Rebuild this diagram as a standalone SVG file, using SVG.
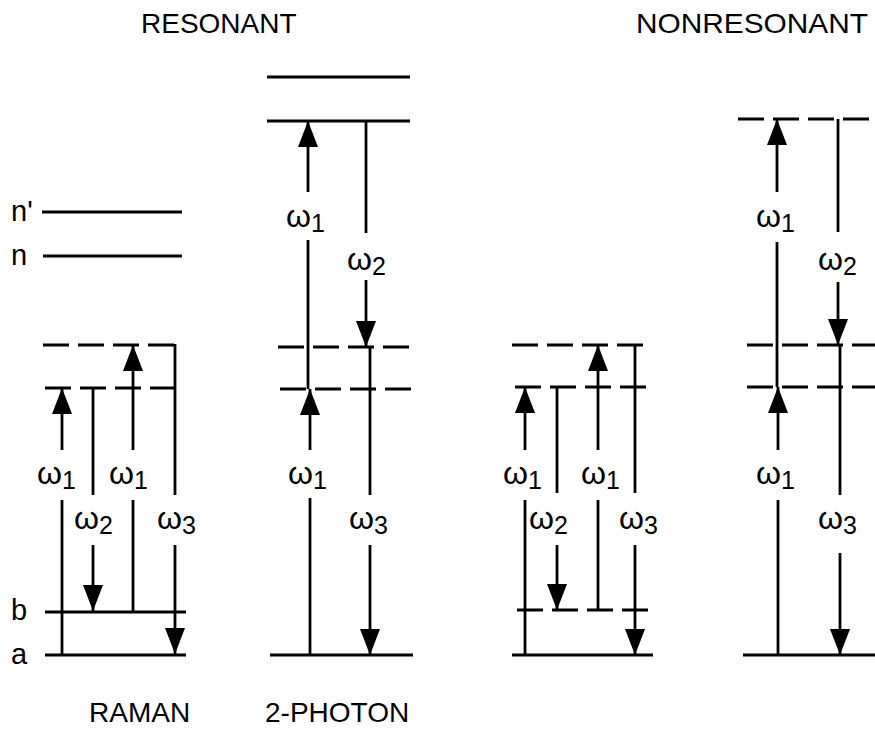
<svg xmlns="http://www.w3.org/2000/svg" width="875" height="748" viewBox="0 0 875 748">
<defs>
<marker id="ah" markerUnits="userSpaceOnUse" markerWidth="27" markerHeight="22" refX="26" refY="10" orient="auto">
<path d="M0,0 L26,10 L0,20 z" fill="#000"/>
</marker>
<style>
.lv{stroke:#000;stroke-width:3.2;fill:none}
.ds{stroke:#000;stroke-width:3.2;fill:none;stroke-dasharray:26 9}
.sh{stroke:#000;stroke-width:2.8;fill:none}
.ar{stroke:#000;stroke-width:2.8;fill:none;marker-end:url(#ah)}
text{font-family:"Liberation Sans",Arial,Helvetica,sans-serif;fill:#000}
.tt{font-size:28px}
.lb{font-size:29px}
.w{font-size:32px}
.sub{font-size:25px}
</style>
</defs>
<rect width="875" height="748" fill="#fff"/>

<g id="titles">
<text class="tt" x="141" y="33">RESONANT</text>
<text class="tt" x="636" y="33" textLength="232" lengthAdjust="spacingAndGlyphs">NONRESONANT</text>
<text class="tt" x="89" y="722">RAMAN</text>
<text class="tt" x="265" y="722">2-PHOTON</text>
</g>

<g id="level-labels">
<text class="lb" x="11" y="221">n'</text>
<text class="lb" x="11" y="265">n</text>
<text class="lb" x="11" y="620">b</text>
<text class="lb" x="11" y="664">a</text>
</g>

<g id="raman-levels">
<line id="r-nprime" class="lv" x1="42" y1="212" x2="182" y2="212"/>
<line id="r-n" class="lv" x1="43" y1="256" x2="182" y2="256"/>
<line id="r-v2" class="ds" x1="43" y1="345" x2="175" y2="345"/>
<line id="r-v1" class="ds" x1="45" y1="388" x2="175" y2="388"/>
<line id="r-b" class="lv" x1="45" y1="612" x2="186" y2="612"/>
<line id="r-a" class="lv" x1="45" y1="655" x2="186" y2="655"/>
</g>

<g id="tp-levels">
<line id="t-top" class="lv" x1="267" y1="77" x2="410" y2="77"/>
<line id="t-n" class="lv" x1="267" y1="121" x2="410" y2="121"/>
<line id="t-v2" class="ds" x1="278" y1="347" x2="413" y2="347"/>
<line id="t-v1" class="ds" x1="280" y1="389" x2="413" y2="389"/>
<line id="t-a" class="lv" x1="270" y1="655" x2="413" y2="655"/>
</g>

<g id="nr-raman-levels">
<line id="nr-v2" class="ds" x1="512" y1="345" x2="646" y2="345"/>
<line id="nr-v1" class="ds" x1="515" y1="387" x2="646" y2="387"/>
<line id="nr-b" class="ds" x1="517" y1="610" x2="649" y2="610"/>
<line id="nr-a" class="lv" x1="512" y1="655" x2="653" y2="655"/>
</g>

<g id="nt-levels">
<line id="nt-top" class="ds" x1="738" y1="119" x2="870" y2="119"/>
<line id="nt-v2" class="ds" x1="747" y1="345" x2="875" y2="345"/>
<line id="nt-v1" class="ds" x1="747" y1="387" x2="875" y2="387"/>
<line id="nt-a" class="lv" x1="743" y1="655" x2="875" y2="655"/>
</g>

<g id="connectors">
<!-- resonant Raman -->
<line class="sh" x1="62" y1="655" x2="62" y2="500"/>
<line class="ar" x1="62" y1="450" x2="62" y2="388"/>
<line class="sh" x1="93" y1="388" x2="93" y2="495"/>
<line class="ar" x1="93" y1="545" x2="93" y2="611"/>
<line class="sh" x1="133" y1="612" x2="133" y2="500"/>
<line class="ar" x1="133" y1="450" x2="133" y2="345"/>
<line class="sh" x1="175" y1="344" x2="175" y2="495"/>
<line class="ar" x1="175" y1="545" x2="175" y2="654"/>
<!-- resonant 2-photon -->
<line class="sh" x1="308" y1="389" x2="308" y2="240"/>
<line class="ar" x1="308" y1="192" x2="308" y2="121"/>
<line class="sh" x1="366" y1="121" x2="366" y2="233"/>
<line class="ar" x1="366" y1="280" x2="366" y2="347"/>
<line class="sh" x1="310" y1="655" x2="310" y2="498"/>
<line class="ar" x1="310" y1="450" x2="310" y2="389"/>
<line class="sh" x1="370" y1="347" x2="370" y2="495"/>
<line class="ar" x1="370" y1="545" x2="370" y2="655"/>
<!-- nonresonant Raman -->
<line class="sh" x1="525" y1="655" x2="525" y2="500"/>
<line class="ar" x1="525" y1="450" x2="525" y2="387"/>
<line class="sh" x1="557" y1="387" x2="557" y2="493"/>
<line class="ar" x1="557" y1="545" x2="557" y2="610"/>
<line class="sh" x1="598" y1="610" x2="598" y2="500"/>
<line class="ar" x1="598" y1="450" x2="598" y2="345"/>
<line class="sh" x1="635" y1="345" x2="635" y2="493"/>
<line class="ar" x1="635" y1="545" x2="635" y2="655"/>
<!-- nonresonant 2-photon -->
<line class="sh" x1="777" y1="387" x2="777" y2="242"/>
<line class="ar" x1="777" y1="192" x2="777" y2="119"/>
<line class="sh" x1="838" y1="119" x2="838" y2="232"/>
<line class="ar" x1="838" y1="282" x2="838" y2="345"/>
<line class="sh" x1="778" y1="655" x2="778" y2="500"/>
<line class="ar" x1="778" y1="450" x2="778" y2="387"/>
<line class="sh" x1="840" y1="345" x2="840" y2="495"/>
<line class="ar" x1="840" y1="553" x2="840" y2="655"/>
</g>

<g id="omega-labels">
<text class="w" x="37" y="484">ω<tspan class="sub" dy="5">1</tspan></text>
<text class="w" x="74" y="529">ω<tspan class="sub" dy="5">2</tspan></text>
<text class="w" x="109" y="484">ω<tspan class="sub" dy="5">1</tspan></text>
<text class="w" x="157" y="529">ω<tspan class="sub" dy="5">3</tspan></text>

<text class="w" x="286" y="227">ω<tspan class="sub" dy="5">1</tspan></text>
<text class="w" x="347" y="270">ω<tspan class="sub" dy="5">2</tspan></text>
<text class="w" x="288" y="484">ω<tspan class="sub" dy="5">1</tspan></text>
<text class="w" x="349" y="529">ω<tspan class="sub" dy="5">3</tspan></text>

<text class="w" x="503" y="484">ω<tspan class="sub" dy="5">1</tspan></text>
<text class="w" x="529" y="529">ω<tspan class="sub" dy="5">2</tspan></text>
<text class="w" x="581" y="484">ω<tspan class="sub" dy="5">1</tspan></text>
<text class="w" x="619" y="529">ω<tspan class="sub" dy="5">3</tspan></text>

<text class="w" x="756" y="227">ω<tspan class="sub" dy="5">1</tspan></text>
<text class="w" x="818" y="270">ω<tspan class="sub" dy="5">2</tspan></text>
<text class="w" x="756" y="484">ω<tspan class="sub" dy="5">1</tspan></text>
<text class="w" x="818" y="529">ω<tspan class="sub" dy="5">3</tspan></text>
</g>
</svg>
